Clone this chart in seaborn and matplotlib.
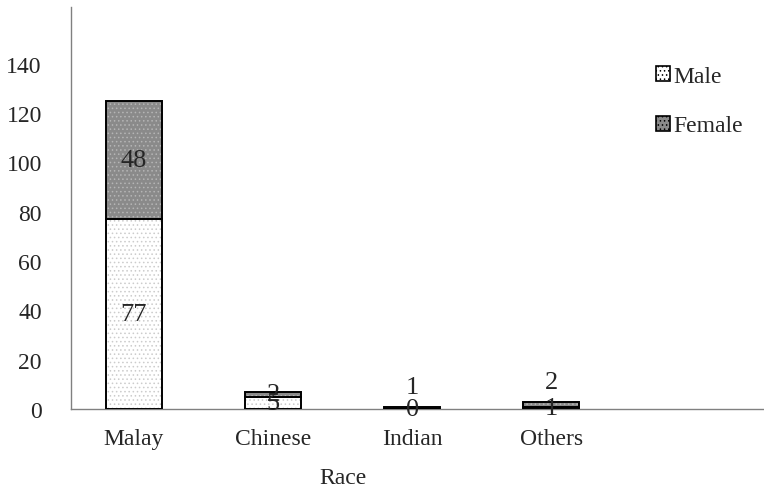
import matplotlib
matplotlib.use("Agg")
import matplotlib.pyplot as plt
from matplotlib.patches import Patch
import seaborn as sns
import pandas as pd

races = ["Malay", "Chinese", "Indian", "Others"]
male = [77, 5, 0, 1]
female = [48, 2, 1, 2]
yticks = [0, 20, 40, 60, 80, 100, 120, 140]

sns.set_theme(style="white")
plt.rcParams["font.family"] = ["Liberation Serif", "DejaVu Serif"]
plt.rcParams["hatch.linewidth"] = 0.6

df = pd.DataFrame({"Race": races, "Male": male, "Female": female})
df["Total"] = df["Male"] + df["Female"]

fig = plt.figure(figsize=(7.64, 4.89), dpi=100)
ax = fig.add_axes([71 / 764, 79 / 489, 1 - 71 / 764, (410 - 8) / 489])

W = 0.4
FEMALE_FILL = "#8a8a8a"
FEMALE_DOT = "#b5b5b5"
MALE_DOT = "#cccccc"

# stacked bars: totals (female on top) first, then male segments over them
sns.barplot(data=df, x="Race", y="Total", color=FEMALE_FILL, width=W,
            saturation=1, ax=ax, linewidth=0, hatch="....", edgecolor=FEMALE_DOT)
n = len(ax.patches)
sns.barplot(data=df, x="Race", y="Male", color="white", width=W,
            saturation=1, ax=ax, linewidth=0, hatch="....", edgecolor=MALE_DOT)
for p in ax.patches[:n]:
    p.set_facecolor(FEMALE_FILL)
    p.set_edgecolor(FEMALE_DOT)
for p in ax.patches[n:]:
    p.set_facecolor("white")
    p.set_edgecolor(MALE_DOT)

# black outlines of every segment
for i in range(len(races)):
    ax.bar(i, male[i], width=W, bottom=0, facecolor="none",
           edgecolor="black", linewidth=1.4, zorder=3)
    ax.bar(i, female[i], width=W, bottom=male[i], facecolor="none",
           edgecolor="black", linewidth=1.4, zorder=3)

# value labels (small stacks get the female value lifted above the bar)
fs = 17
vfs = 19
for i in range(len(races)):
    ax.text(i, male[i] / 2, str(male[i]), ha="center", va="center",
            fontsize=vfs, zorder=4)
    total = male[i] + female[i]
    fy = male[i] + female[i] / 2
    if total < 5:
        fy = total + 8
    ax.text(i, fy, str(female[i]), ha="center", va="center",
            fontsize=vfs, zorder=4)

ax.set_xlim(-0.453, 4.53)
ax.set_ylim(0, 163)
ax.set_yticks(yticks)
ax.tick_params(axis="both", length=0, labelsize=fs)
ax.tick_params(axis="y", pad=21)
ax.tick_params(axis="x", pad=14)

for s in ["top", "right"]:
    ax.spines[s].set_visible(False)
for s in ["left", "bottom"]:
    ax.spines[s].set_color("#808080")
    ax.spines[s].set_linewidth(1.0)

ax.set_ylabel("")
ax.set_xlabel("Race", fontsize=fs)
ax.xaxis.set_label_coords((343 - 71) / (764 - 71), -0.145)

handles = [
    Patch(facecolor="white", edgecolor="black", hatch="....", linewidth=1.2,
          label="Male"),
    Patch(facecolor=FEMALE_FILL, edgecolor="black", hatch="....",
          linewidth=1.2, label="Female"),
]
leg = ax.legend(handles=handles, loc="upper left",
                bbox_to_anchor=((656 - 71) / (764 - 71), 0.853),
                frameon=False, fontsize=fs, handlelength=0.6,
                handleheight=0.6, handletextpad=0.15, labelspacing=1.2,
                borderpad=0, borderaxespad=0)

fig.savefig("out.png", dpi=100)
